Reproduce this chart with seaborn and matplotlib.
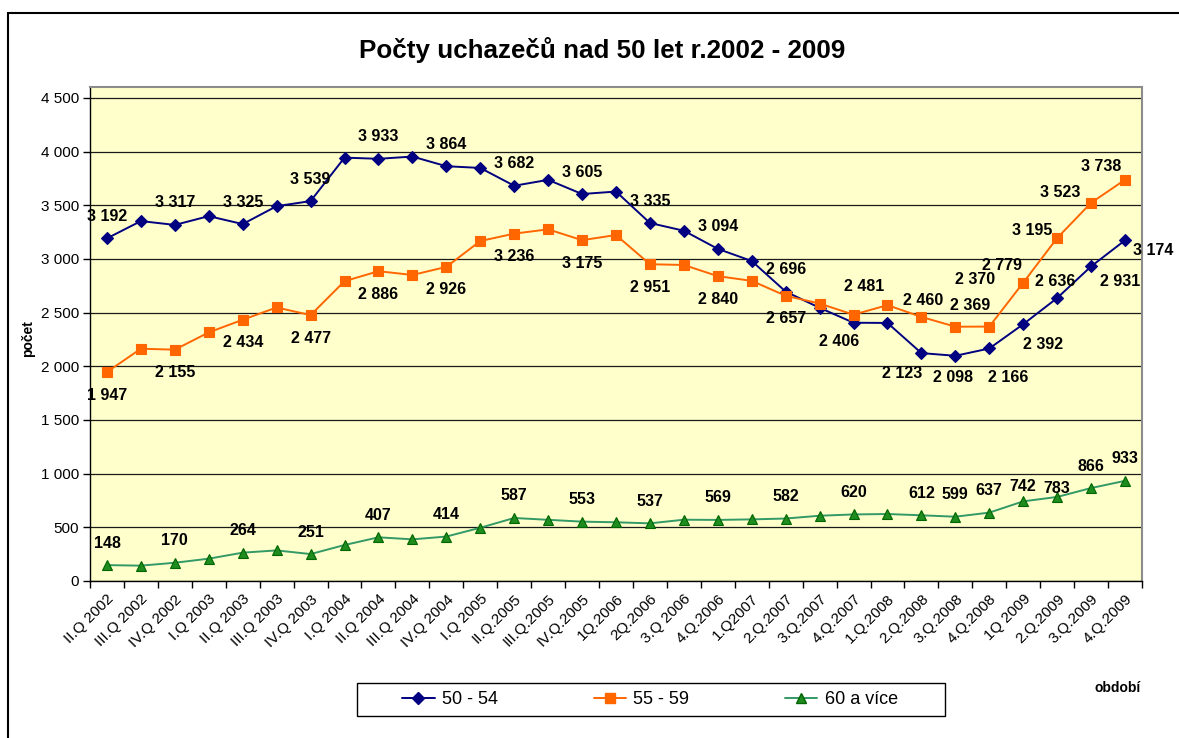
import numpy as np
import pandas as pd
import matplotlib
matplotlib.use("Agg")
import matplotlib.pyplot as plt
import matplotlib.ticker as mticker
import matplotlib.transforms as mtransforms
from matplotlib.patches import Rectangle
from matplotlib.lines import Line2D
import seaborn as sns

# data (uchazeci nad 50 let, ctvrtleti 2002 - 2009)
obdobi = ["II.Q 2002", "III.Q 2002", "IV.Q 2002", "I.Q 2003", "II.Q 2003", "III.Q 2003",
          "IV.Q 2003", "I.Q 2004", "II.Q 2004", "III.Q 2004", "IV.Q 2004", "I.Q 2005",
          "II.Q.2005", "III.Q.2005", "IV.Q.2005", "1Q.2006", "2Q.2006", "3.Q 2006",
          "4.Q.2006", "1.Q2007", "2.Q.2007", "3.Q.2007", "4.Q.2007", "1.Q.2008",
          "2.Q.2008", "3.Q.2008", "4.Q.2008", "1Q 2009", "2.Q.2009", "3.Q.2009", "4.Q.2009"]

vek_50_54 = [3192, 3353, 3317, 3399, 3325, 3492, 3539, 3944, 3933, 3954, 3864, 3848, 3682,
             3737, 3605, 3628, 3335, 3263, 3094, 2981, 2696, 2545, 2406, 2404, 2123, 2098,
             2166, 2392, 2636, 2931, 3174]
vek_55_59 = [1947, 2164, 2155, 2316, 2434, 2548, 2477, 2793, 2886, 2851, 2926, 3167, 3236,
             3276, 3175, 3223, 2951, 2944, 2840, 2796, 2657, 2585, 2481, 2570, 2460, 2369,
             2370, 2779, 3195, 3523, 3738]
vek_60 = [148, 143, 170, 208, 264, 285, 251, 335, 407, 388, 414, 496, 587, 570, 553,
          547, 537, 571, 569, 574, 582, 608, 620, 624, 612, 599, 637, 742, 783, 866, 933]

skupiny = ["50 - 54", "55 - 59", "60 a více"]

# which points carry a value label in the original
popsane = list(range(0, 24, 2)) + [24, 25, 26, 27, 28, 29, 30]

n = len(obdobi)
df = pd.DataFrame({
    "poradi": list(range(n)) * 3,
    "pocet": vek_50_54 + vek_55_59 + vek_60,
    "skupina": [s for s in skupiny for _ in range(n)],
})

# styl jednotlivych rad
styl = {
    "50 - 54": dict(color="#000080", marker="D", ms=6, mfc="#000080", mec="#000080"),
    "55 - 59": dict(color="#FF6600", marker="s", ms=6.5, mfc="#FF6600", mec="#FF6600"),
    "60 a více": dict(color="#339966", marker="^", ms=7, mfc="#1E8C1E", mec="#006400"),
}
# posun popisku v pixelech (dx, dy)
posun_vychozi = {"50 - 54": (0, 22), "55 - 59": (0, -23), "60 a více": (0, 22)}
posun_vyjimky = {
    "50 - 54": {22: (-14, -19), 24: (-19, -20), 25: (-2, -22), 26: (19, -29),
                27: (20, -20), 28: (-2, 17), 29: (29, -15), 30: (28, -10)},
    "55 - 59": {22: (11, 28), 24: (2, 16), 25: (15, 21), 26: (-14, 47),
                27: (-21, 17), 28: (-25, 8), 29: (-31, 10), 30: (-24, 13)},
    "60 a více": {27: (0, 15), 28: (0, 8)},
}

sns.set_style("ticks")
plt.rcParams["font.family"] = ["Liberation Sans", "DejaVu Sans"]
plt.rcParams["text.color"] = "black"
plt.rcParams["axes.labelcolor"] = "black"
plt.rcParams["xtick.color"] = "black"
plt.rcParams["ytick.color"] = "black"

fig = plt.figure(figsize=(11.79, 7.38), dpi=100)
fig.patch.set_facecolor("white")
ax = fig.add_axes([90 / 1179, 1 - 581 / 738, 1052 / 1179, 494 / 738])
ax.set_facecolor("#FFFFCC")

for s in skupiny:
    st = styl[s]
    sns.lineplot(data=df[df["skupina"] == s], x="poradi", y="pocet", ax=ax,
                 color=st["color"], lw=1.4, marker=st["marker"], markersize=st["ms"],
                 markerfacecolor=st["mfc"], markeredgecolor=st["mec"], markeredgewidth=0.8,
                 legend=False, zorder=3)
    hodnoty = df[df["skupina"] == s]["pocet"].tolist()
    for i in popsane:
        dx, dy = posun_vyjimky[s].get(i, posun_vychozi[s])
        ax.annotate(f"{hodnoty[i]:,}".replace(",", " "), (i, hodnoty[i]),
                    xytext=(dx, dy), textcoords="offset pixels", ha="center", va="center",
                    fontsize=11.5, fontweight="bold", color="black", zorder=4)

ax.set_xlim(-0.5, n - 0.5)
ax.set_ylim(0, 4602)
ax.set_yticks(np.arange(0, 4501, 500))
ax.yaxis.set_major_formatter(mticker.FuncFormatter(lambda v, p: f"{int(v):,}".replace(",", " ")))
ax.set_xticks(range(n))
ax.set_xticklabels(obdobi, rotation=45, ha="right", rotation_mode="anchor", fontsize=11)
posun = mtransforms.ScaledTranslation(-4 / 100, -6 / 100, fig.dpi_scale_trans)
for lab in ax.get_xticklabels():
    lab.set_transform(lab.get_transform() + posun)
ax.xaxis.set_minor_locator(mticker.FixedLocator(np.arange(-0.5, n, 1.0)))
ax.tick_params(axis="x", which="major", length=0, pad=8)
ax.tick_params(axis="x", which="minor", length=5, width=1, color="black", direction="out")
ax.tick_params(axis="y", length=5, width=1, color="black", direction="out", labelsize=11, pad=3)

ax.yaxis.grid(True, color="#1a1a1a", lw=0.9)
ax.set_axisbelow(True)
for side in ["left", "bottom"]:
    ax.spines[side].set_color("black")
    ax.spines[side].set_linewidth(1)
for side in ["top", "right"]:
    ax.spines[side].set_color("#8c8c8c")
    ax.spines[side].set_linewidth(1.5)

ax.set_ylabel("počet", fontsize=10, fontweight="bold")
ax.yaxis.set_label_coords((35 - 90) / 1052, 0.49)
ax.set_xlabel("období", fontsize=10, fontweight="bold")
ax.xaxis.set_label_coords((1118 - 90) / 1052, (581 - 681) / 494)

fig.text(602 / 1179, 1 - 50 / 738, "Počty uchazečů nad 50 let r.2002 - 2009",
         ha="center", va="center", fontsize=18.7, fontweight="bold")

handles = [Line2D([], [], color=styl[s]["color"], lw=1.4, marker=styl[s]["marker"],
                  markersize=styl[s]["ms"], markerfacecolor=styl[s]["mfc"],
                  markeredgecolor=styl[s]["mec"]) for s in skupiny]
leg = fig.legend(handles, skupiny, loc="center", bbox_to_anchor=(650 / 1179, 1 - 700 / 738),
                 ncol=3, frameon=False, fontsize=13,
                 handlelength=1.8, handletextpad=0.4, columnspacing=5.3, borderpad=0,
                 borderaxespad=0)
# ramecek legendy
fig.patches.append(Rectangle((357 / 1179, 1 - 716 / 738), 588 / 1179, 33 / 738,
                             transform=fig.transFigure, fill=False, lw=1, ec="black"))

# ramecek kolem celeho grafu
fig.patches.append(Rectangle((8 / 1179, -0.1), 1.2, 1 - 13 / 738 + 0.1,
                             transform=fig.transFigure, fill=False, lw=1.5, ec="black"))

fig.savefig("out.png", dpi=100)
